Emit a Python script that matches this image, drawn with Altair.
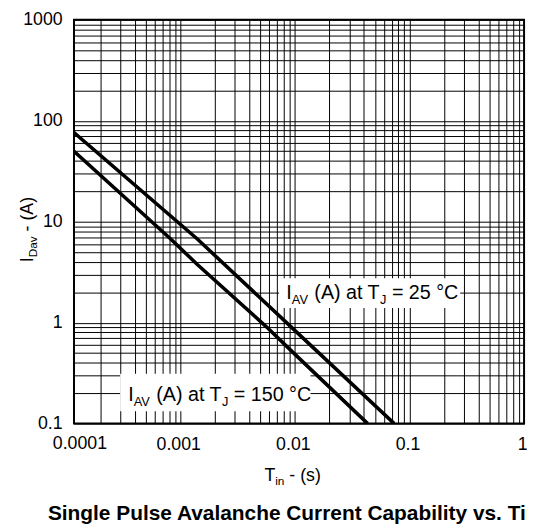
import altair as alt
import pandas as pd

# ---------------- data ----------------
XMIN = 1.183e-4          # left edge of the plotted time range
t_25 = [XMIN, 1.41e-3, 9.22e-3, 0.0736]
i_25 = [76.4, 6.74, 0.914, 0.1]
t_150 = [XMIN, 8.26e-4, 1.41e-3, 5.62e-3, 0.0102, 0.0432]
i_150 = [49.9, 6.74, 3.77, 0.914, 0.477, 0.1]

x_label_pos = [0.001, 0.01, 0.1, 1]
x_labels = ["0.001", "0.01", "0.1", "1"]
x_first_label = "0.0001"          # printed at the left edge of the plot
y_label_pos = [0.1, 1, 10, 100, 1000]
y_labels = ["0.1", "1", "10", "100", "1000"]

title_text = "Single Pulse Avalanche Current Capability vs. Time"

# ---------------- helpers ----------------
FONT = "Liberation Sans"
W = {' ': 278, '(': 333, ')': 333, '-': 333, '=': 584, '.': 278, '°': 400,
     'A': 667, 'C': 722, 'D': 722, 'I': 278, 'J': 500, 'T': 611, 'V': 667,
     'a': 556, 'i': 222, 'n': 556, 's': 500, 't': 278, 'v': 500}
for d in "0123456789":
    W[d] = 556


def tw(s, size):
    return sum(W[c] for c in s) * size / 1000.0


rows = []
for t, i in zip(t_25, i_25):
    rows.append({"x": t, "y": i, "s": "25"})
for t, i in zip(t_150, i_150):
    rows.append({"x": t, "y": i, "s": "150"})
lines_df = pd.DataFrame(rows)

xgrid = [XMIN] + [m * 10.0 ** e for e in range(-4, 0) for m in range(1, 10) if m * 10.0 ** e > XMIN * 1.001] + [1.0]
ygrid = [m * 10.0 ** e for e in range(-1, 3) for m in range(1, 10)] + [1000.0]


def label_expr(pos, labs):
    parts = [f"abs(datum.value/{p} - 1) < 0.001 ? '{l}'" for p, l in zip(pos, labs)]
    return " : ".join(parts) + " : ''"


xs = alt.Scale(type="log", domain=[XMIN, 1], nice=False)
ys = alt.Scale(type="log", domain=[0.1, 1000], nice=False)

common_axis = dict(grid=True, gridColor="black", gridWidth=1, gridOpacity=1,
                   ticks=False, domain=False, labelFont=FONT, labelFontSize=18,
                   labelColor="black", labelFlush=False, labelOverlap=False,
                   title=None)
xaxis = alt.Axis(values=xgrid, labelExpr=label_expr(x_label_pos, x_labels),
                 labelPadding=12, labelOffset=-2, **common_axis)
yaxis = alt.Axis(values=ygrid, labelExpr=label_expr(y_label_pos, y_labels),
                 labelPadding=12, **common_axis)


def X(f):
    return alt.X(f, type="quantitative", scale=xs, axis=xaxis)


def Y(f):
    return alt.Y(f, type="quantitative", scale=ys, axis=yaxis)


layers = []

# white label boxes
boxes = pd.DataFrame({
    "x": [7.28e-3, 2.99e-4], "x2": [0.277, 0.0137],
    "y": [1.40, 0.1325], "y2": [2.75, 0.311],
})
layers.append(alt.Chart(boxes).mark_rect(color="white").encode(
    x=X("x"), x2="x2", y=Y("y"), y2="y2"))

# curves
layers.append(alt.Chart(lines_df).mark_line(color="black", strokeWidth=3.6, clip=True).encode(
    x=X("x"), y=Y("y"), detail="s:N"))


def rich(pieces, main, sub, shift, start, dy0, df, enc, angle=None):
    out = []
    off = start
    for txt, is_sub in pieces:
        size = sub if is_sub else main
        lead = len(txt) - len(txt.lstrip(" "))
        off += tw(" " * lead, size)
        s = txt.strip(" ")
        kw = dict(align="left", baseline="alphabetic", font=FONT, fontSize=size,
                  color="black", dx=off, dy=dy0 + (shift if is_sub else 0), text=s)
        if angle is not None:
            kw["angle"] = angle
        out.append(alt.Chart(df).mark_text(**kw).encode(**enc))
        off += tw(s, size)
        trail = len(txt) - len(txt.rstrip(" "))
        off += tw(" " * trail, size)
    return out


def total(pieces, main, sub):
    return sum(tw(t, sub if s else main) for t, s in pieces)


# annotations
ann = [
    ("25", 8.43e-3, 2.0, 7),
    ("150", 3.52e-4, 0.2, 8),
]
for temp, ax, ay, dy0 in ann:
    pieces = [("I", False), ("AV", True), (" (A) at T", False), ("J", True), (f" = {temp} °C", False)]
    df = pd.DataFrame({"x": [ax], "y": [ay]})
    layers += rich(pieces, 20, 13, 5, 0, dy0, df, dict(x=X("x"), y=Y("y")))

dummy = pd.DataFrame({"a": [0]})

# first x tick label, at the left edge
layers.append(alt.Chart(pd.DataFrame({"x": [XMIN], "y": [0.1]})).mark_text(
    text=x_first_label, align="center", baseline="top", font=FONT, fontSize=18,
    color="black", dx=6, dy=12).encode(x=X("x"), y=Y("y")))

# x-axis title
xt = [("T", False), ("in", True), (" - (s)", False)]
layers += rich(xt, 18, 12, 4, -total(xt, 18, 12) / 2, 0, dummy,
               dict(x=alt.value(222), y=alt.value(468)))

# y-axis title (rotated)
yt = [("I", False), ("Dav", True), (" - (A)", False)]
layers += rich(yt, 18, 12, 4, -total(yt, 18, 12) / 2, 0, dummy,
               dict(x=alt.value(-42), y=alt.value(213)), angle=270)

# bottom caption
layers.append(alt.Chart(dummy).mark_text(
    text=title_text, align="left", baseline="alphabetic", font=FONT,
    fontSize=21.2, fontWeight="bold", color="black").encode(
    x=alt.value(-26.5), y=alt.value(508)))

chart = alt.layer(*layers).properties(
    width=457, height=410,
    autosize=alt.AutoSizeParams(type="none"),
    padding={"left": 67, "top": 8, "right": 3, "bottom": 101},
).configure_view(stroke="black", strokeWidth=2)

chart.save("out.html", embed_options={"renderer": "svg", "actions": False})
